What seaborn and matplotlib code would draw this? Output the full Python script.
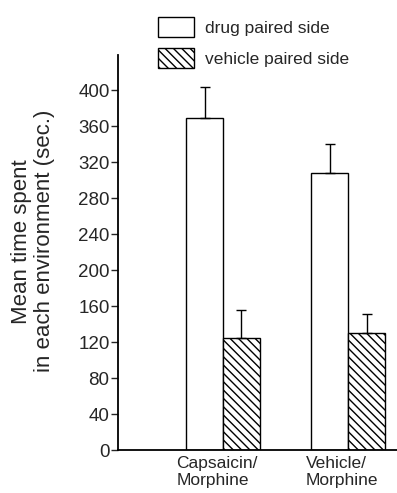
import numpy as np
import pandas as pd
import matplotlib
matplotlib.use("Agg")
import matplotlib.pyplot as plt
import matplotlib.transforms as mtransforms
import seaborn as sns
from matplotlib.patches import Patch

groups = ["Capsaicin/\nMorphine", "Vehicle/\nMorphine"]
sides = ["drug paired side", "vehicle paired side"]
drug_mean = [369, 308]
vehicle_mean = [125, 130]
drug_err = [35, 32]
vehicle_err = [31, 21]
yticks = [0, 40, 80, 120, 160, 200, 240, 280, 320, 360, 400]

df = pd.DataFrame({
    "group": groups * 2,
    "side": [sides[0]] * 2 + [sides[1]] * 2,
    "time": drug_mean + vehicle_mean,
})

sns.set_style("white")
plt.rcParams['font.family'] = ['Liberation Sans', 'DejaVu Sans']
plt.rcParams['hatch.linewidth'] = 1.0

fig = plt.figure(figsize=(3.97, 4.93), dpi=100)
ax = fig.add_axes([0.297, 0.087, 0.703, 0.801])

sns.barplot(data=df, x="group", y="time", hue="side", order=groups,
            hue_order=sides, palette=["white", "white"], width=0.59,
            edgecolor="black", linewidth=1.0, errorbar=None, legend=False, ax=ax)

# hatch the vehicle bars
for bar in ax.containers[1]:
    bar.set_hatch("\\\\\\\\")

# upper-only error bars
for cont, err in zip(ax.containers, [drug_err, vehicle_err]):
    xs = [b.get_x() + b.get_width() / 2 for b in cont]
    hs = [b.get_height() for b in cont]
    ax.errorbar(xs, hs, yerr=[np.zeros(len(err)), err], fmt="none",
                ecolor="black", elinewidth=1.0, capsize=3.6, capthick=1.0)

ax.set_xlim(-0.84, 1.39)
ax.set_ylim(0, 439)
ax.set_yticks(yticks)
ax.tick_params(axis="y", direction="out", length=5, width=1, labelsize=13.5, pad=1, left=True)
ax.tick_params(axis="x", length=0, labelsize=12.5, pad=4)
shift = mtransforms.ScaledTranslation(-6 / 100, 0, fig.dpi_scale_trans)
for lbl in ax.get_xticklabels():
    lbl.set_multialignment("left")
    lbl.set_transform(lbl.get_transform() + shift)
ax.set_xlabel("")
ax.set_ylabel("Mean time spent\nin each environment (sec.)", fontsize=16, linespacing=1.1)
ax.yaxis.set_label_coords(-0.226, 0.529)
sns.despine(ax=ax)
for s in ["left", "bottom"]:
    ax.spines[s].set_color("black")
    ax.spines[s].set_linewidth(1.3)

handles = [Patch(facecolor="white", edgecolor="black", linewidth=1.0),
           Patch(facecolor="white", edgecolor="black", linewidth=1.0, hatch="\\\\\\\\")]
fig.legend(handles, sides, loc="upper left", bbox_to_anchor=(0.398, 0.966),
           frameon=False, fontsize=12.5, handlelength=2.07, handleheight=1.4,
           handletextpad=0.63, labelspacing=0.65, borderpad=0, borderaxespad=0)

fig.savefig("out.png", dpi=100)
